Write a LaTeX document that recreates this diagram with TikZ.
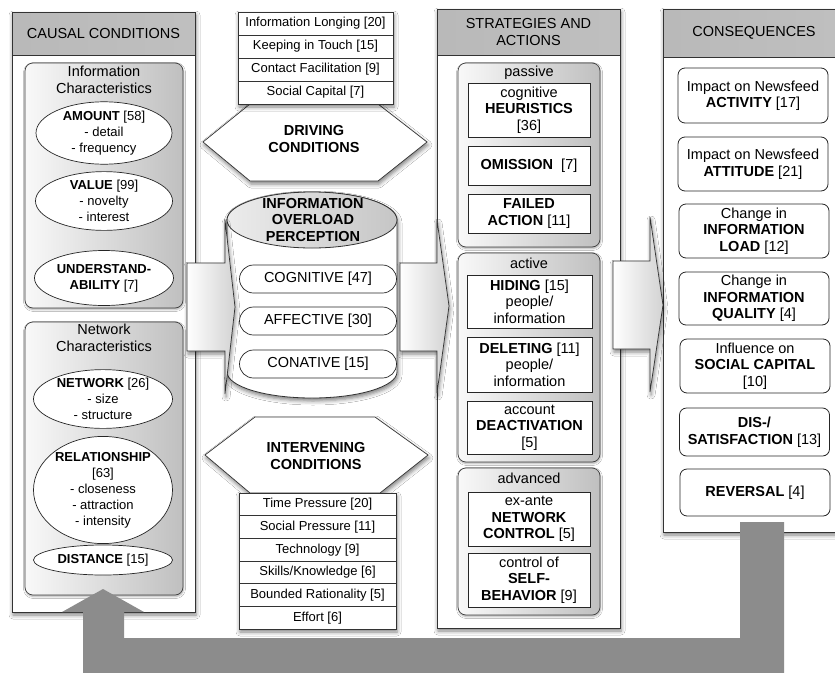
\documentclass[tikz,border=0pt]{standalone}
\usepackage{fontspec}
\setmainfont{Liberation Sans}
\usetikzlibrary{shapes.geometric,shadows.blur}

\tikzset{
  every node/.style={align=center, inner sep=0pt},
  txt/.style={font=\fontsize{14.5}{16.5}\selectfont},
  txtsm/.style={font=\fontsize{13}{16}\selectfont},
  txtbf/.style={font=\fontsize{14.5}{16.5}\selectfont\bfseries},
  softshadow/.style={blur shadow={shadow xshift=1pt, shadow yshift=-3pt,
      shadow blur radius=4pt, shadow opacity=50}},
  panel/.style={draw=black!80, line width=0.8pt, fill=white, softshadow},
  headbar/.style={draw=black!80, line width=0.8pt, left color=gray!55,
      middle color=gray!12, right color=gray!50, txt},
  group/.style={draw=black!75, line width=0.7pt, rounded corners=8pt,
      left color=gray!5, right color=gray!50,
      blur shadow={shadow xshift=0.5pt, shadow yshift=-1.5pt,
      shadow blur radius=2pt, shadow opacity=35}},
  oval/.style={ellipse, draw=black!85, line width=0.7pt, fill=white, txtsm},
  listrow/.style={draw=black!80, line width=0.7pt, fill=white, txtsm,
      minimum height=23pt},
  hexa/.style={draw=black!80, line width=0.7pt, fill=white, softshadow},
  pill/.style={draw=black!85, line width=0.7pt, fill=white, txt,
      rounded corners=14pt, minimum width=157pt, minimum height=28pt},
  sbox/.style={draw=black!85, line width=0.9pt, fill=white, txt},
  cbox/.style={draw=black!85, line width=0.8pt, fill=white, txt,
      rounded corners=7pt, minimum width=150pt},
  blockarrow/.style={draw=black!80, line width=0.7pt, left color=white,
      right color=gray!35, softshadow},
  feedback/.style={fill=black!45},
}

\begin{document}
\begin{tikzpicture}[x=1pt, y=-1pt]
\path[use as bounding box, clip] (0,0) rectangle (835,672);
\fill[white] (0,0) rectangle (835,672);

% ---------------- causal conditions ----------------
\node[panel, minimum width=183pt, minimum height=600pt] (causal) at (103.5,312) {};
\node[headbar, minimum width=183pt, minimum height=43pt] (causalhead) at (103.5,33.5) {CAUSAL CONDITIONS};

\node[group, minimum width=158pt, minimum height=245pt] (infogrp) at (104,185.5) {};
\node[txt] (infotitle) at (104,80) {Information\\Characteristics};
\node[oval, minimum width=136pt, minimum height=53pt] (amount) at (104,133)
  {\textbf{AMOUNT} [58]\\- detail\\- frequency};
\node[oval, minimum width=137pt, minimum height=52pt] (value) at (104,201)
  {\textbf{VALUE} [99]\\- novelty\\- interest};
\node[oval, minimum width=139pt, minimum height=55pt] (underst) at (104,278)
  {\textbf{UNDERSTAND-}\\\textbf{ABILITY} [7]};

\node[group, minimum width=158pt, minimum height=273pt] (netgrp) at (104,458.5) {};
\node[txt] (nettitle) at (104,338) {Network\\Characteristics};
\node[oval, minimum width=139pt, minimum height=52pt] (network) at (103,399)
  {\textbf{NETWORK} [26]\\- size\\- structure};
\node[oval, minimum width=139pt, minimum height=84pt] (relation) at (103,490)
  {\textbf{RELATIONSHIP}\\{[63]}\\- closeness\\- attraction\\- intensity};
\node[oval, minimum width=139pt, minimum height=30pt] (distance) at (103,560)
  {\textbf{DISTANCE} [15]};

% ---------------- driving conditions ----------------
\draw[hexa] (203,142) -- (250,104) -- (378,104) -- (427,142) -- (378,181) -- (250,181) -- cycle;
\node[txtbf] (driving) at (314,139) {DRIVING\\CONDITIONS};
\begin{scope}[every node/.append style={listrow, minimum width=155pt}]
  \node[softshadow] (drvall) at (315.5,58) [minimum height=92pt] {};
  \node (drv1) at (315.5,23.5) {Information Longing [20]};
  \node (drv2) at (315.5,46.5) {Keeping in Touch [15]};
  \node (drv3) at (315.5,69.5) {Contact Facilitation [9]};
  \node (drv4) at (315.5,92.5) {Social Capital [7]};
\end{scope}

% ---------------- information overload perception ----------------
\draw[draw=black!80, line width=0.8pt, fill=white, softshadow]
  (227,220) -- (227,372) arc[start angle=180, end angle=0, x radius=85, y radius=26]
  -- (397,220) arc[start angle=0, end angle=-180, x radius=85, y radius=28] -- cycle;
\draw[draw=black!80, line width=0.8pt, left color=gray!15, right color=gray!45]
  (312,220) ellipse [x radius=85, y radius=28];
\node[txtbf] (cylhead) at (313,220) {INFORMATION\\OVERLOAD\\PERCEPTION};
\node[pill] (cog) at (318,279) {COGNITIVE [47]};
\node[pill] (aff) at (318,321) {AFFECTIVE [30]};
\node[pill] (con) at (318,364) {CONATIVE [15]};

% ---------------- intervening conditions ----------------
\draw[hexa] (205,455) -- (255,417) -- (375,417) -- (428,455) -- (380,493) -- (250,493) -- cycle;
\node[txtbf] (intervening) at (316,456) {INTERVENING\\CONDITIONS};
\begin{scope}[every node/.append style={listrow, minimum width=157pt, minimum height=22.67pt}]
  \node[softshadow, minimum height=136pt] (intall) at (317.5,561) {};
  \node (int1) at (317.5,504.33) {Time Pressure [20]};
  \node (int2) at (317.5,527)    {Social Pressure [11]};
  \node (int3) at (317.5,549.67) {Technology [9]};
  \node (int4) at (317.5,572.33) {Skills/Knowledge [6]};
  \node (int5) at (317.5,595)    {Bounded Rationality [5]};
  \node (int6) at (317.5,617.67) {Effort [6]};
\end{scope}

% ---------------- strategies and actions ----------------
\node[panel, minimum width=183pt, minimum height=619pt] (strat) at (528.5,318.5) {};
\node[headbar, minimum width=183pt, minimum height=46pt] (strathead) at (528.5,32) {STRATEGIES AND\\ACTIONS};

\node[group, minimum width=142pt, minimum height=184pt] (passive) at (529,155) {};
\node[txt] (passlbl) at (529,73) {passive};
\node[sbox, minimum width=122pt, minimum height=54pt] (heur) at (529,110)
  {cognitive\\\textbf{HEURISTICS}\\{[36]}};
\node[sbox, minimum width=122pt, minimum height=39pt] (omis) at (529,165.5)
  {\textbf{OMISSION}\ \ [7]};
\node[sbox, minimum width=122pt, minimum height=39pt] (failed) at (529,213.5)
  {\textbf{FAILED}\\\textbf{ACTION} [11]};

\node[group, minimum width=142pt, minimum height=209pt] (active) at (529,357.5) {};
\node[txt] (actlbl) at (529,263) {active};
\node[sbox, minimum width=125pt, minimum height=53pt] (hiding) at (529.5,301.5)
  {\textbf{HIDING} [15]\\people/\\information};
\node[sbox, minimum width=125pt, minimum height=55pt] (deleting) at (529.5,364.5)
  {\textbf{DELETING} [11]\\people/\\information};
\node[sbox, minimum width=125pt, minimum height=53pt] (deact) at (529.5,427.5)
  {account\\\textbf{DEACTIVATION}\\{[5]}};

\node[group, minimum width=142pt, minimum height=147pt] (advanced) at (529,541.5) {};
\node[txt] (advlbl) at (529,478) {advanced};
\node[sbox, minimum width=122pt, minimum height=54pt] (netctrl) at (529,519)
  {ex-ante\\\textbf{NETWORK}\\\textbf{CONTROL} [5]};
\node[sbox, minimum width=122pt, minimum height=54pt] (selfb) at (529,580)
  {control of\\\textbf{SELF-}\\\textbf{BEHAVIOR} [9]};

% ---------------- consequences ----------------
\node[panel, minimum width=182pt, minimum height=523pt] (conseq) at (754,270.5) {};
\node[headbar, minimum width=182pt, minimum height=48pt] (conseqhead) at (754,33) {CONSEQUENCES};
\node[cbox, minimum height=55pt] (c1) at (753,95.5) {Impact on Newsfeed\\\textbf{ACTIVITY} [17]};
\node[cbox, minimum height=54pt] (c2) at (753,164) {Impact on Newsfeed\\\textbf{ATTITUDE} [21]};
\node[cbox, minimum height=54pt] (c3) at (754,231) {Change in\\\textbf{INFORMATION}\\\textbf{LOAD} [12]};
\node[cbox, minimum height=53pt] (c4) at (754,298.5) {Change in\\\textbf{INFORMATION}\\\textbf{QUALITY} [4]};
\node[cbox, minimum height=54pt] (c5) at (755,366) {Influence on\\\textbf{SOCIAL CAPITAL}\\{[10]}};
\node[cbox, minimum height=48pt] (c6) at (754.5,432) {\textbf{DIS-/}\\\textbf{SATISFACTION} [13]};
\node[cbox, minimum height=47pt] (c7) at (755,492.5) {\textbf{REVERSAL} [4]};

% ---------------- block arrows between the stages ----------------
\draw[blockarrow] (187,263) -- (225,263) -- (225,220) -- (235,307) -- (225,394) -- (225,351) -- (187,351) -- cycle;
\draw[blockarrow] (400,263) -- (437,263) -- (437,220) -- (449,306) -- (437,393) -- (437,351) -- (400,351) -- cycle;
\draw[blockarrow] (613,261) -- (650,261) -- (650,217) -- (663,305) -- (650,392) -- (650,349) -- (613,349) -- cycle;

% ---------------- feedback loop ----------------
\fill[feedback] (740,522) -- (784,522) -- (784,680) -- (83,680) -- (83,612) -- (62,612)
  -- (103,589) -- (144,612) -- (124,612) -- (124,638) -- (740,638) -- cycle;
\end{tikzpicture}
\end{document}
